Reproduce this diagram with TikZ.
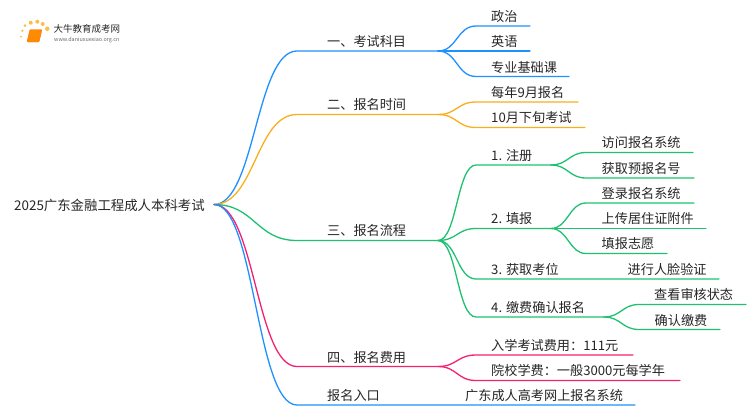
\documentclass[tikz,border=0pt]{standalone}
\usepackage{fontspec}
\setmainfont{Noto Sans CJK SC}
\definecolor{branchblue}{HTML}{1E90FF}
\definecolor{branchyellow}{HTML}{F9AE1B}
\definecolor{branchgreen}{HTML}{1CC172}
\definecolor{branchpink}{HTML}{F5206F}
\tikzset{
  x=1pt, y=-1pt,
  {item/.style} ={anchor=base west,inner sep=0,text=black!85,font=\fontsize{13.15}{13}\selectfont},
  {root/.style} ={item,font=\fontsize{13.4}{13}\selectfont},
  {edge/.style} ={line width=1.3pt,draw,line cap=round},
  {bluebr/.style} ={edge,color=branchblue},
  {yellowbr/.style} ={edge,color=branchyellow},
  {greenbr/.style} ={edge,color=branchgreen},
  {pinkbr/.style} ={edge,color=branchpink},
  {dot/.style} ={circle,fill=branchyellow!80!white,inner sep=0,minimum size=#1},
  dot/.default = 3pt,
}
\begin{document}
\begin{tikzpicture}
\useasboundingbox (0,0) rectangle (750,410);
% logo
\node[dot=2pt] (d1) at (21,36.5) {};
\node[dot=2.5pt] (d2) at (22.3,30.7) {};
\node[dot=3pt] (d3) at (25,25.7) {};
\node[dot=4pt] (d4) at (30.7,22.7) {};
\node[dot=4pt] (d5) at (37.3,21.7) {};
\node[dot=4pt] (d6) at (42.7,24) {};
\node[dot=4.5pt] (d7) at (47.3,28.7) {};
\draw[fill=orange!90!yellow,draw=orange!80!red,rounded corners=1pt]
  (30,29.5) -- (42,29.5) -- (39,42) -- (27,42) -- cycle;
\node[item,font=\fontsize{9.5}{9.5}\selectfont] (logo) at (53.5,32) {大牛教育成考网};
\node[item,font=\fontsize{5.4}{5.4}\selectfont,text=black!60] (url) at (54,41) {www.daniuxuexiao.org.cn};
% root
\node[root] (r) at (14,210) {2025广东金融工程成人本科考试};
\coordinate (o) at (214,204.5);
% topics
\node[item] (t1) at (327,46) {一、考试科目};
\node[item] (t2) at (327,109) {二、报名时间};
\node[item] (t3) at (327,235.5) {三、报名流程};
\node[item] (t4) at (327,362) {四、报名费用};
\node[item] (t5) at (327,400) {报名入口};
\coordinate (t1a) at (297,51);   \coordinate (t1b) at (438,51);
\coordinate (t2a) at (297,114.5);\coordinate (t2b) at (438,114.5);
\coordinate (t3a) at (297,240.5);\coordinate (t3b) at (438,240.5);
\coordinate (t4a) at (297,366.5);\coordinate (t4b) at (438,366.5);
\coordinate (t5a) at (297,405);  \coordinate (t5b) at (635,405);
\path[bluebr] (o) .. controls +(41,0) and +(-41,0) .. (t1a) -- (t1b);
\path[yellowbr] (o) .. controls +(41,0) and +(-41,0) .. (t2a) -- (t2b);
\path[greenbr] (o) .. controls +(41,0) and +(-41,0) .. (t3a) -- (t3b);
\path[pinkbr] (o) .. controls +(41,0) and +(-41,0) .. (t4a) -- (t4b);
\path[bluebr] (o) .. controls +(41,0) and +(-41,0) .. (t5a) -- (t5b);
% first topic
\node[item] (a1) at (491,21) {政治};
\node[item] (a2) at (491,46) {英语};
\node[item] (a3) at (491,72) {专业基础课};
\coordinate (a1a) at (476,26);  \coordinate (a1b) at (530,26);
\coordinate (a2b) at (530,51);
\coordinate (a3a) at (476,76.5);\coordinate (a3b) at (569,76.5);
\path[bluebr] (t1b) .. controls +(19,0) and +(-19,0) .. (a1a) -- (a1b);
\path[bluebr] (t1b) -- (a2b);
\path[bluebr] (t1b) .. controls +(19,0) and +(-19,0) .. (a3a) -- (a3b);
% second topic
\node[item] (b1) at (491,97) {每年9月报名};
\node[item] (b2) at (491,122) {10月下旬考试};
\coordinate (b1a) at (476,102);  \coordinate (b1b) at (578,102);
\coordinate (b2a) at (476,127.5);\coordinate (b2b) at (585,127.5);
\path[yellowbr] (t2b) .. controls +(19,0) and +(-19,0) .. (b1a) -- (b1b);
\path[yellowbr] (t2b) .. controls +(19,0) and +(-19,0) .. (b2a) -- (b2b);
% third topic
\node[item] (c1) at (491,160) {1. 注册};
\node[item] (c2) at (491,223.5) {2. 填报};
\node[item] (c3) at (491,274) {3. 获取考位};
\node[item] (c4) at (491,312) {4. 缴费确认报名};
\coordinate (c1a) at (476,165);  \coordinate (c1b) at (551,165);
\coordinate (c2a) at (476,228.5);\coordinate (c2b) at (551,228.5);
\coordinate (c3a) at (476,279);  \coordinate (c3b) at (719,279);
\coordinate (c4a) at (476,317);  \coordinate (c4b) at (604,317);
\path[greenbr] (t3b) .. controls +(19,0) and +(-19,0) .. (c1a) -- (c1b);
\path[greenbr] (t3b) .. controls +(19,0) and +(-19,0) .. (c2a) -- (c2b);
\path[greenbr] (t3b) .. controls +(19,0) and +(-19,0) .. (c3a) -- (c3b);
\path[greenbr] (t3b) .. controls +(19,0) and +(-19,0) .. (c4a) -- (c4b);
% leaves of the third topic
\node[item] (d11) at (601.5,147.5) {访问报名系统};
\node[item] (d12) at (601.5,173) {获取预报名号};
\node[item] (d21) at (601.5,198) {登录报名系统};
\node[item] (d22) at (601.5,223.5) {上传居住证附件};
\node[item] (d23) at (601.5,248.5) {填报志愿};
\node[item] (d31) at (627.5,274) {进行人脸验证};
\node[item] (d41) at (654,299) {查看审核状态};
\node[item] (d42) at (654.5,325) {确认缴费};
\coordinate (d11a) at (586,152.5);\coordinate (d11b) at (693,152.5);
\coordinate (d12a) at (586,178);  \coordinate (d12b) at (694,178);
\coordinate (d21a) at (586,203);  \coordinate (d21b) at (694,203);
\coordinate (d22b) at (706,228.5);
\coordinate (d23a) at (586,253.5);\coordinate (d23b) at (667,253.5);
\coordinate (d41a) at (639,304.5);\coordinate (d41b) at (746,304.5);
\coordinate (d42a) at (639,329.5);\coordinate (d42b) at (720,329.5);
\path[greenbr] (c1b) .. controls +(17,0) and +(-17,0) .. (d11a) -- (d11b);
\path[greenbr] (c1b) .. controls +(17,0) and +(-17,0) .. (d12a) -- (d12b);
\path[greenbr] (c2b) .. controls +(17,0) and +(-17,0) .. (d21a) -- (d21b);
\path[greenbr] (c2b) -- (d22b);
\path[greenbr] (c2b) .. controls +(17,0) and +(-17,0) .. (d23a) -- (d23b);
\path[greenbr] (c4b) .. controls +(17,0) and +(-17,0) .. (d41a) -- (d41b);
\path[greenbr] (c4b) .. controls +(17,0) and +(-17,0) .. (d42a) -- (d42b);
% fourth topic
\node[item] (e1) at (491,350) {入学考试费用：111元};
\node[item] (e2) at (491,375.5) {院校学费：一般3000元每学年};
\coordinate (e1a) at (476,355);  \coordinate (e1b) at (633,355);
\coordinate (e2a) at (476,380.5);\coordinate (e2b) at (680,380.5);
\path[pinkbr] (t4b) .. controls +(19,0) and +(-19,0) .. (e1a) -- (e1b);
\path[pinkbr] (t4b) .. controls +(19,0) and +(-19,0) .. (e2a) -- (e2b);
% last topic
\node[item] (f1) at (465,400) {广东成人高考网上报名系统};
\end{tikzpicture}
\end{document}
